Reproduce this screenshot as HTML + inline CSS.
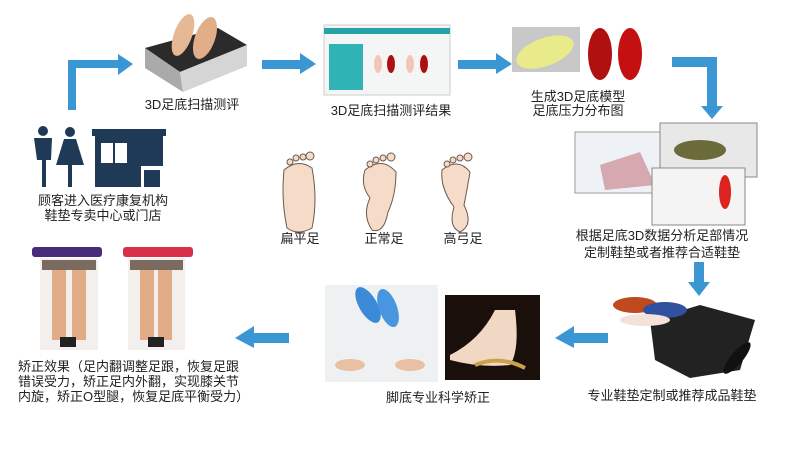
<!DOCTYPE html>
<html><head><meta charset="utf-8"><style>
body{margin:0;width:800px;height:450px;background:#fff;position:relative;overflow:hidden;font-family:"Liberation Sans","Noto Sans CJK SC",sans-serif;color:#222}
.t{position:absolute;font-size:13px;line-height:15px;text-align:center;white-space:nowrap}
</style></head><body>
<svg style="position:absolute;left:0;top:0" width="800" height="450">
<g fill="#3b97d3">
<rect x="68" y="60" width="8" height="50"/><rect x="68" y="60" width="52" height="8"/><polygon points="118,54 133,64 118,75"/>
<rect x="262" y="60" width="40" height="9"/><polygon points="300,53 316,64 300,74"/>
<rect x="458" y="60" width="40" height="9"/><polygon points="496,53 512,64 496,74"/>
<rect x="672" y="57" width="45" height="10"/><rect x="707" y="57" width="10" height="52"/><polygon points="701,106 723,106 712,119"/>
<rect x="694" y="262" width="10" height="22"/><polygon points="688,282 710,282 699,296"/>
<rect x="572" y="333" width="36" height="10"/><polygon points="574,326 555,338 574,348"/>
<rect x="252" y="333" width="37" height="10"/><polygon points="254,326 235,338 254,348"/>
</g>
<!-- people -->
<g fill="#1f3a56">
<circle cx="43" cy="131" r="5"/><polygon points="34,138 52,138 51,160 46,160 46,187 42,187 42,160 37,160"/>
<circle cx="70" cy="132" r="5"/><polygon points="64,139 76,139 84,165 56,165"/><rect x="68" y="163" width="4" height="24"/>
<rect x="92" y="129" width="74" height="7"/><rect x="95" y="136" width="68" height="51"/>
</g>
<rect x="101" y="143" width="26" height="20" fill="#fff"/><rect x="113" y="143" width="2" height="20" fill="#1f3a56"/><rect x="141" y="166" width="22" height="21" fill="#fff"/><rect x="144" y="170" width="16" height="17" fill="#1f3a56"/>
<!-- scanner -->
<polygon points="145,48 218,28 247,45 180,72" fill="#2b2b2b"/><polygon points="145,48 180,72 183,92 145,68" fill="#aaa"/><polygon points="180,72 247,45 247,66 183,92" fill="#d5d5d5"/>
<ellipse cx="183" cy="35" rx="9" ry="22" fill="#e7b894" transform="rotate(20 183 35)"/><ellipse cx="205" cy="38" rx="10" ry="22" fill="#e2ae8a" transform="rotate(20 205 38)"/>
<!-- screenshot -->
<rect x="324" y="25" width="126" height="70" fill="#f4f6f6" stroke="#ccc"/><rect x="324" y="28" width="126" height="6" fill="#27a3a8"/>
<rect x="329" y="44" width="34" height="46" fill="#2fb3b5"/>
<ellipse cx="378" cy="64" rx="4" ry="9" fill="#f0c8b4"/><ellipse cx="391" cy="64" rx="4" ry="9" fill="#a11"/><ellipse cx="410" cy="64" rx="4" ry="9" fill="#f0c8b4"/><ellipse cx="424" cy="64" rx="4" ry="9" fill="#a11"/>
<!-- 3d model -->
<rect x="512" y="27" width="68" height="45" fill="#c8c8c8"/><ellipse cx="545" cy="52" rx="30" ry="14" fill="#e9ea8a" transform="rotate(-20 545 52)"/>
<ellipse cx="600" cy="54" rx="12" ry="26" fill="#b01010"/><ellipse cx="630" cy="54" rx="12" ry="26" fill="#c41010"/>
<!-- software screenshots -->
<rect x="575" y="132" width="88" height="61" fill="#eef2f6" stroke="#999"/><polygon points="600,165 640,152 655,185 605,190" fill="#d6a8b0"/>
<rect x="660" y="123" width="97" height="54" fill="#e8e8e8" stroke="#888"/><ellipse cx="700" cy="150" rx="26" ry="10" fill="#6a6a3a"/>
<rect x="652" y="168" width="93" height="57" fill="#f4f4f4" stroke="#888"/><ellipse cx="725" cy="192" rx="6" ry="17" fill="#d22"/>
<!-- feet -->
<g fill="#f6dcc8" stroke="#6a5a50" stroke-width="1">
<path d="M284,170 Q298,158 312,168 Q318,200 312,228 Q298,236 287,228 Q281,200 284,170Z"/>
<path d="M365,170 Q382,156 396,172 Q396,195 388,212 Q384,234 372,230 Q362,215 370,198 Q360,185 365,170Z"/>
<path d="M442,170 Q458,157 470,172 Q467,190 464,205 Q474,225 460,232 Q448,227 454,207 Q440,188 442,170Z"/>
</g>
<g fill="#f6dcc8" stroke="#6a5a50"><circle cx="290" cy="162" r="3"/><circle cx="296" cy="158" r="3"/><circle cx="303" cy="157" r="3"/><circle cx="310" cy="156" r="4"/>
<circle cx="370" cy="164" r="3"/><circle cx="376" cy="160" r="3"/><circle cx="383" cy="158" r="3"/><circle cx="391" cy="157" r="4"/>
<circle cx="447" cy="164" r="3"/><circle cx="453" cy="160" r="3"/><circle cx="460" cy="158" r="3"/><circle cx="468" cy="157" r="4"/></g>
<!-- legs -->
<rect x="32" y="247" width="70" height="10" rx="3" fill="#4a2a7a"/><rect x="123" y="247" width="70" height="10" rx="3" fill="#d8304a"/>
<rect x="40" y="258" width="58" height="92" fill="#f3efec"/><rect x="128" y="258" width="57" height="92" fill="#f3efec"/>
<rect x="42" y="260" width="54" height="10" fill="#7a6a60"/><rect x="130" y="260" width="53" height="10" fill="#7a6a60"/>
<g fill="#e1ab86"><rect x="52" y="270" width="14" height="70"/><rect x="72" y="270" width="14" height="70"/><rect x="140" y="270" width="14" height="70"/><rect x="158" y="270" width="14" height="70"/></g>
<g fill="#222"><rect x="60" y="337" width="16" height="10"/><rect x="148" y="337" width="16" height="10"/></g>
<!-- insoles -->
<rect x="325" y="285" width="113" height="97" fill="#eef0f2"/><ellipse cx="368" cy="305" rx="9" ry="20" fill="#3a8ad8" transform="rotate(-30 368 305)"/><ellipse cx="388" cy="308" rx="9" ry="20" fill="#4896e0" transform="rotate(-20 388 308)"/>
<ellipse cx="350" cy="365" rx="15" ry="6" fill="#e9c0a4"/><ellipse cx="410" cy="365" rx="15" ry="6" fill="#e9c0a4"/>
<rect x="445" y="295" width="95" height="85" fill="#1a0f0a"/><path d="M450,355 Q480,340 495,310 L515,310 Q520,350 510,365 Q480,368 450,360Z" fill="#f0d8c4"/><path d="M475,365 Q500,355 525,368" stroke="#c9a24a" stroke-width="4" fill="none"/>
<!-- insole box -->
<polygon points="650,320 700,305 755,320 740,370 690,378 655,360" fill="#222"/><ellipse cx="635" cy="305" rx="22" ry="8" fill="#c04a20"/><ellipse cx="665" cy="310" rx="22" ry="8" fill="#3050a0"/><ellipse cx="645" cy="320" rx="25" ry="6" fill="#f4e2da"/><ellipse cx="737" cy="358" rx="6" ry="20" fill="#111" transform="rotate(40 737 358)"/>
</svg>
<div class="t" style="left:142px;top:97px;width:100px">3D足底扫描测评</div>
<div class="t" style="left:320px;top:103px;width:142px">3D足底扫描测评结果</div>
<div class="t" style="left:518px;top:90px;width:120px;line-height:14px">生成3D足底模型<br>足底压力分布图</div>
<div class="t" style="left:28px;top:193px;width:150px">顾客进入医疗康复机构<br>鞋垫专卖中心或门店</div>
<div class="t" style="left:270px;top:231px;width:60px">扁平足</div>
<div class="t" style="left:354px;top:231px;width:60px">正常足</div>
<div class="t" style="left:433px;top:231px;width:60px">高弓足</div>
<div class="t" style="left:562px;top:227px;width:200px;line-height:17px">根据足底3D数据分析足部情况<br>定制鞋垫或者推荐合适鞋垫</div>
<div class="t" style="left:582px;top:388px;width:180px">专业鞋垫定制或推荐成品鞋垫</div>
<div class="t" style="left:368px;top:390px;width:140px">脚底专业科学矫正</div>
<div class="t" style="left:18px;top:359px;text-align:left">矫正效果（足内翻调整足跟，恢复足跟<br>错误受力，矫正足内外翻，实现膝关节<br>内旋，矫正O型腿，恢复足底平衡受力）</div>
</body></html>
